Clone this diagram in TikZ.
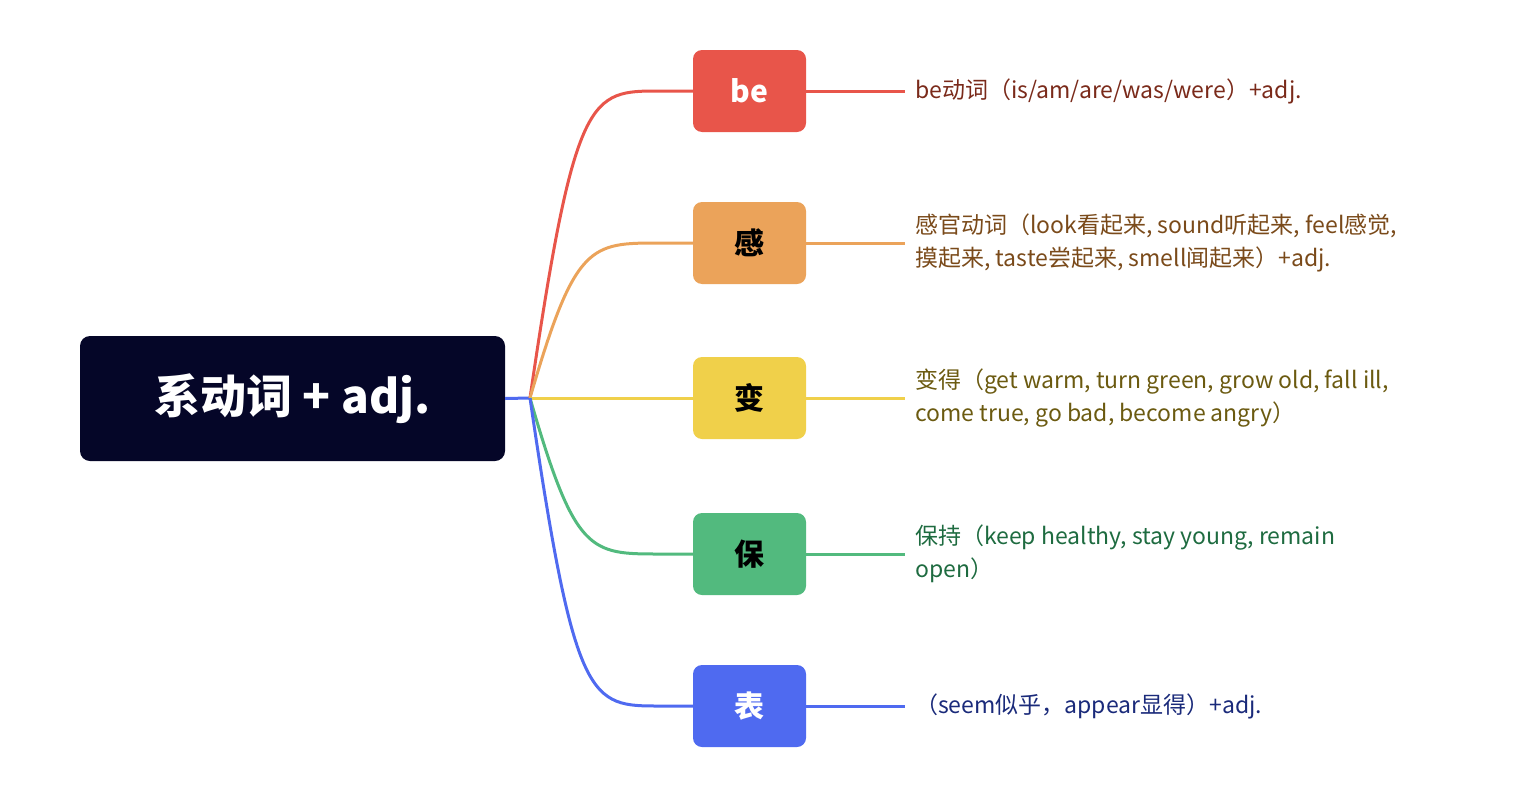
\documentclass[tikz,border=0pt]{standalone}
\usepackage{fontspec}
\setmainfont{Noto Sans CJK SC}
\begin{document}
\begin{tikzpicture}[x=1pt,y=-1pt,
  br/.style={rounded corners=9pt,minimum width=113pt,minimum height=82pt,inner sep=0pt,font=\fontsize{30}{34}\selectfont\bfseries},
  lbl/.style={anchor=west,align=left,inner sep=0pt,font=\fontsize{23}{33}\selectfont},
  ln/.style={line width=3pt}]
\definecolor{root}{HTML}{050628}
\definecolor{cr}{HTML}{E8554A}\definecolor{co}{HTML}{EBA35A}\definecolor{cy}{HTML}{F0D04A}
\definecolor{cg}{HTML}{52BA7E}\definecolor{cb}{HTML}{4F6AF0}
\definecolor{tr}{HTML}{7A2A1A}\definecolor{to}{HTML}{7A4A1A}\definecolor{ty}{HTML}{6B5A10}
\definecolor{tg}{HTML}{1E6B40}\definecolor{tb}{HTML}{1A2A7A}
\useasboundingbox (0,0) rectangle (1536,787);
\node[fill=root,rounded corners=10pt,minimum width=425pt,minimum height=125pt,text=white,font=\fontsize{46}{50}\selectfont\bfseries] (root) at (292.5,398.5) {系动词 + adj.};
\coordinate (hub) at (530,398);
\draw[cb,ln] (root.east) -- (hub);
\foreach \n/\y/\c/\t/\tc/\lc/\txt in {
 a/91/cr/be/white/tr/{be动词（is/am/are/was/were）+adj.},
 b/243/co/感/black/to/{感官动词（look看起来, sound听起来, feel感觉,\\摸起来, taste尝起来, smell闻起来）+adj.},
 c/398/cy/变/black/ty/{变得（get warm, turn green, grow old, fall ill,\\come true, go bad, become angry）},
 d/554/cg/保/black/tg/{保持（keep healthy, stay young, remain\\open）},
 e/706/cb/表/white/tb/{（seem似乎，appear显得）+adj.}}{
 \node[br,fill=\c,text=\tc] (\n) at (749.5,\y) {\t};
 \draw[\c,ln] (hub) .. controls (575,\y) and (590,\y) .. (660,\y) -- (\n.west);
 \coordinate (\n e) at (905,\y);
 \draw[\c,ln] (\n.east) -- (\n e);
 \node[lbl,text=\lc] (\n t) at (915,\y) {\txt};
}
\end{tikzpicture}
\end{document}
